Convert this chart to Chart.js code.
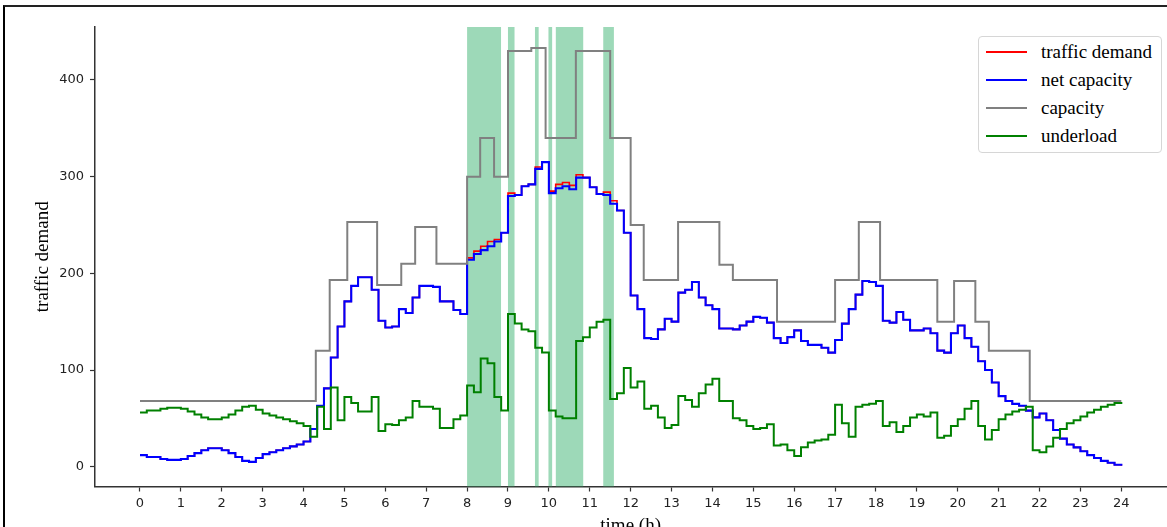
<!DOCTYPE html>
<html>
<head>
<meta charset="utf-8">
<title>traffic demand</title>
<script src="https://cdn.jsdelivr.net/npm/chart.js@4.4.1/dist/chart.umd.min.js"></script>
<style>
  html, body { margin: 0; padding: 0; background: #fff; overflow: hidden; }
  #wrap { position: absolute; left: 0; top: 0; width: 1167px; height: 545px; }
  #frame { position: absolute; left: 3px; top: 5px; width: 1400px; height: 800px;
           border-top: 2px solid #222; border-left: 2px solid #000; pointer-events: none; }
  #legend { position: absolute; left: 978px; top: 36px; width: 184px; height: 117px; box-sizing: border-box;
            border: 1px solid #d6d6d6; border-radius: 4px; background: #fff;
            font-family: "Liberation Serif", "Times New Roman", serif; font-size: 19px; color: #000; }
  .leg-row { position: absolute; left: 0; width: 100%; height: 28px; line-height: 28px; }
  .leg-line { position: absolute; left: 7px; top: 13px; width: 41px; height: 2px; }
  .leg-text { position: absolute; left: 62px; top: 0; white-space: nowrap; }
</style>
</head>
<body>
<div id="frame"></div>
<div id="wrap"><canvas id="chart"></canvas></div>
<div id="legend"></div>
<script>
"use strict";

// x axis: hours, y axis: traffic demand
var hourTicks = [0, 1, 2, 3, 4, 5, 6, 7, 8, 9, 10, 11, 12, 13, 14, 15, 16, 17, 18, 19, 20, 21, 22, 23, 24];
var demandTicks = [0, 100, 200, 300, 400];
var STEP_H = 1 / 6; // one sample every 10 minutes, 0h .. 24h

var trafficDemand = [
  12, 10, 10, 8, 7, 7, 8, 11, 14, 17, 19, 19, 17, 14, 10, 6, 5, 9, 13, 15, 17, 19, 21, 23,
  26, 39, 63, 81, 113, 145, 171, 187, 196, 196, 183, 151, 144, 145, 163, 159, 175, 187, 187, 186, 171, 171, 162, 158,
  216, 223, 228, 233, 235, 242, 283, 281, 290, 292, 310, 315, 285, 292, 294, 291, 302, 299, 289, 282, 284, 275, 265, 242,
  177, 163, 133, 132, 142, 153, 150, 180, 183, 191, 175, 167, 163, 143, 143, 142, 146, 150, 155, 154, 149, 133, 128, 134,
  141, 130, 126, 126, 123, 118, 131, 148, 163, 178, 192, 191, 187, 151, 149, 160, 152, 141, 141, 143, 138, 120, 118, 138,
  146, 133, 124, 109, 100, 87, 73, 68, 65, 63, 58, 51, 55, 48, 38, 29, 23, 20, 16, 12, 9, 6, 4, 2, 1
];

var netCapacity = [
  12, 10, 10, 8, 7, 7, 8, 11, 14, 17, 19, 19, 17, 14, 10, 6, 5, 9, 13, 15, 17, 19, 21, 23,
  26, 39, 63, 81, 113, 145, 171, 187, 196, 196, 183, 151, 144, 145, 163, 159, 175, 187, 187, 186, 171, 171, 162, 158,
  214, 220, 224, 228, 233, 242, 280, 281, 290, 292, 308, 315, 283, 288, 290, 287, 299, 299, 289, 282, 281, 272, 265, 242,
  177, 163, 133, 132, 142, 153, 150, 180, 183, 191, 175, 167, 163, 143, 143, 142, 146, 150, 155, 154, 149, 133, 128, 134,
  141, 130, 126, 126, 123, 118, 131, 148, 163, 178, 192, 191, 187, 151, 149, 160, 152, 141, 141, 143, 138, 120, 118, 138,
  146, 133, 124, 109, 100, 87, 73, 68, 65, 63, 58, 51, 55, 48, 38, 29, 23, 20, 16, 12, 9, 6, 4, 2, 1
];

var underload = [
  56, 58, 58, 60, 61, 61, 60, 57, 54, 51, 49, 49, 51, 54, 58, 62, 63, 59, 55, 53, 51, 49, 47, 45,
  42, 31, 62, 39, 82, 48, 72, 66, 57, 57, 72, 37, 44, 43, 48, 51, 68, 62, 62, 60, 40, 40, 49, 53,
  84, 77, 112, 107, 72, 58, 158, 148, 142, 140, 123, 118, 58, 52, 50, 50, 130, 134, 144, 150, 152, 70, 76, 102,
  82, 88, 60, 63, 51, 40, 43, 73, 69, 62, 76, 85, 91, 68, 68, 50, 48, 42, 39, 40, 44, 22, 23, 17,
  11, 20, 25, 27, 28, 33, 64, 45, 31, 62, 64, 65, 68, 42, 46, 36, 42, 51, 54, 52, 56, 30, 32, 42,
  49, 60, 68, 42, 28, 38, 49, 54, 57, 59, 62, 17, 15, 21, 30, 39, 45, 48, 52, 56, 59, 62, 64, 66, 67
];

// capacity is piecewise constant: value holds from each time until the next one
var capTimes  = [0, 4.3, 4.64, 5.07, 5.8, 6.39, 6.73, 7.25, 8, 8.32, 8.66, 9, 9.57, 9.92, 10.66, 11.5, 12, 12.32,
                 13.16, 14.17, 14.5, 15.58, 17, 17.58, 18.1, 19.5, 19.91, 20.43, 20.76, 21.76, 24];
var capValues = [68, 120, 193, 253, 188, 210, 248, 210, 300, 340, 300, 430, 433, 340, 430, 340, 250, 193,
                 253, 209, 193, 150, 193, 253, 193, 150, 192, 150, 120, 68, 68];

// shaded intervals (h)
var spanStarts = [8.0, 9.0, 9.66, 9.99, 10.17, 11.33];
var spanEnds   = [8.83, 9.16, 9.75, 10.08, 10.84, 11.59];

var SERIES = [
  { label: "traffic demand", color: "#ff0000", width: 1.6 },
  { label: "net capacity", color: "#0000ff", width: 2.1 },
  { label: "capacity", color: "#808080", width: 2 },
  { label: "underload", color: "#008000", width: 2 }
];

function sampled(values) {
  return values.map(function(v, i) { return { x: i * STEP_H, y: v }; });
}

function stepped(times, values) {
  return times.map(function(t, i) { return { x: t, y: values[i] }; });
}

var spanPlugin = {
  id: "spans",
  beforeDatasetsDraw: function(chart) {
    var ctx = chart.ctx, area = chart.chartArea, xs = chart.scales.x;
    ctx.save();
    ctx.fillStyle = "rgba(60,179,113,0.5)";
    for (var i = 0; i < spanStarts.length; i++) {
      var x0 = xs.getPixelForValue(spanStarts[i]);
      var x1 = xs.getPixelForValue(spanEnds[i]);
      ctx.fillRect(x0, area.top, x1 - x0, area.bottom - area.top);
    }
    ctx.restore();
  }
};

function lineSet(idx, data, order) {
  return {
    label: SERIES[idx].label,
    data: data,
    borderColor: SERIES[idx].color,
    backgroundColor: SERIES[idx].color,
    borderWidth: SERIES[idx].width,
    pointRadius: 0,
    stepped: "before",
    fill: false,
    order: order
  };
}

var AXIS = "#333";
var tickFont = { family: "DejaVu Sans", size: 13 };
var titleFont = { family: "Liberation Serif", size: 19, lineHeight: 1.2 };

new Chart(document.getElementById("chart").getContext("2d"), {
  type: "line",
  data: {
    datasets: [
      lineSet(0, sampled(trafficDemand), 4),
      lineSet(1, sampled(netCapacity), 3),
      lineSet(2, stepped(capTimes, capValues), 2),
      lineSet(3, sampled(underload), 1)
    ]
  },
  plugins: [spanPlugin],
  options: {
    responsive: true,
    maintainAspectRatio: false,
    animation: false,
    devicePixelRatio: 1,
    layout: { padding: { left: 0, top: 27, right: 0.7, bottom: 0 } },
    plugins: { legend: { display: false }, tooltip: { enabled: false } },
    scales: {
      x: {
        type: "linear",
        min: -1.1,
        max: 25.1,
        afterFit: function(s) { s.height = 58.5; },
        afterBuildTicks: function(s) { s.ticks = hourTicks.map(function(v) { return { value: v }; }); },
        ticks: { autoSkip: false, maxRotation: 0, padding: 4, color: "#222", font: tickFont,
                 callback: function(v) { return String(v); } },
        grid: { display: true, drawOnChartArea: false, drawTicks: true, tickLength: 5, tickColor: AXIS, tickWidth: 1.2 },
        border: { display: true, color: AXIS, width: 1.5 },
        title: { display: true, text: "time (h)", color: "#000", font: titleFont, padding: { top: 0, bottom: 7.5 } }
      },
      y: {
        type: "linear",
        min: -20.5,
        max: 454.8,
        afterFit: function(s) { s.width = 95; },
        afterBuildTicks: function(s) { s.ticks = demandTicks.map(function(v) { return { value: v }; }); },
        ticks: { padding: 6, color: "#222", font: tickFont, callback: function(v) { return String(v); } },
        grid: { display: true, drawOnChartArea: false, drawTicks: true, tickLength: 5, tickColor: AXIS, tickWidth: 1.2 },
        border: { display: true, color: AXIS, width: 1.5 },
        title: { display: true, text: "traffic demand", color: "#000", font: titleFont, padding: { top: 32, bottom: 0 } }
      }
    }
  }
});

// legend drawn as html, matplotlib style box in the upper right
var legend = document.getElementById("legend");
SERIES.forEach(function(s, i) {
  var row = document.createElement("div");
  row.className = "leg-row";
  row.style.top = (1 + i * 28) + "px";
  row.innerHTML = '<span class="leg-line" style="background:' + s.color + ';"></span>' +
                  '<span class="leg-text">' + s.label + '</span>';
  legend.appendChild(row);
});
</script>
</body>
</html>
